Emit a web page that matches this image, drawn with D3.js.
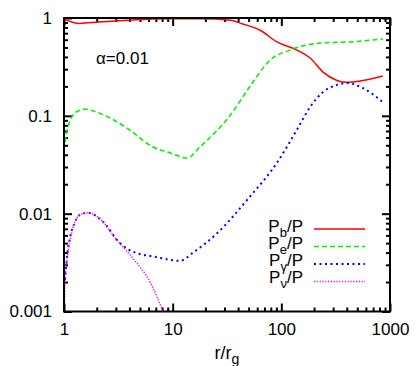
<!DOCTYPE html>
<html>
<head>
<meta charset="utf-8"/>
<script src="https://cdn.jsdelivr.net/npm/d3@7"></script>
<style>
body { margin: 0; background: #fff; }
svg { font-family: "Liberation Sans", Arial, sans-serif; }
</style>
</head>
<body>
<script>
// r/r_g values and pressure ratios
var rB = [1, 1.4, 2.1, 4, 9.4, 18, 34, 44, 64, 91, 139, 184, 242, 325, 402, 530, 860];
var pB = [0.98, 0.88, 0.91, 0.95, 0.98, 0.98, 0.95, 0.87, 0.75, 0.57, 0.47, 0.39, 0.28, 0.23, 0.22, 0.227, 0.255];

var rE = [1.02, 1.09, 1.21, 1.35, 1.56, 2.0, 3.8, 6.6, 9.4, 13.6, 17.8, 34, 51, 79, 120, 227, 430, 860];
var pE = [0.054, 0.077, 0.102, 0.112, 0.117, 0.109, 0.075, 0.048, 0.042, 0.037, 0.048, 0.102, 0.197, 0.372, 0.47, 0.555, 0.57, 0.61];

var rG = [1.02, 1.07, 1.14, 1.26, 1.4, 1.66, 2.3, 3.27, 3.8, 5.3, 6.2, 11.7, 15.4, 25.6, 51, 91, 139, 184, 242, 325, 402, 564, 860];
var pG = [0.0021, 0.0038, 0.0058, 0.0082, 0.0097, 0.0102, 0.0082, 0.0050, 0.0044, 0.0038, 0.0037, 0.0033, 0.0040, 0.0063, 0.0148, 0.033, 0.072, 0.123, 0.175, 0.207, 0.217, 0.192, 0.138];

var rN = [1, 1.02, 1.07, 1.14, 1.26, 1.4, 1.66, 2.3, 2.83, 4.3, 6.2, 8.15];
var pN = [0.001, 0.0019, 0.0034, 0.0054, 0.0082, 0.0097, 0.0102, 0.0082, 0.0060, 0.0035, 0.0020, 0.001];

var xTicks = [1, 10, 100, 1000];
var xTickLabels = ["1", "10", "100", "1000"];
var yTicks = [0.001, 0.01, 0.1, 1];
var yTickLabels = ["0.001", "0.01", "0.1", "1"];

var legendNames = [["P", "b", "/P"], ["P", "e", "/P"], ["P", "\u03b3", "/P"], ["P", "\u03bd", "/P"]];

var W = 417, H = 366;
var pL = 64, pR = 390, pT = 18, pB0 = 311.5;

var svg = d3.select("body").append("svg")
	.attr("width", W)
	.attr("height", H);

var x = d3.scaleLog().domain([1, 1000]).range([pL, pR]);
var y = d3.scaleLog().domain([0.001, 1]).range([pB0, pT]);

function minors(decades) {
	var out = [];
	decades.slice(0, -1).forEach(function(d) {
		for (var k = 2; k <= 9; k++) out.push(d * k);
	});
	return out;
}
var xMinor = minors(xTicks);
var yMinor = minors(yTicks);

function xFmt(d) { return xTickLabels[xTicks.indexOf(d)]; }
function yFmt(d) { return yTickLabels[yTicks.indexOf(d)]; }

// ticks on all four sides, pointing inward
function drawAxis(gen, tx, ty) {
	var g = svg.append("g").attr("transform", "translate(" + tx + "," + ty + ")").call(gen);
	g.select(".domain").remove();
	g.selectAll(".tick line").attr("stroke", "#000").attr("stroke-width", 2);
	g.selectAll("text").attr("font-size", 17).attr("fill", "#000");
	return g;
}

drawAxis(d3.axisBottom(x).tickValues(xTicks).tickSize(-8).tickPadding(11).tickFormat(xFmt), 0, pB0);
drawAxis(d3.axisBottom(x).tickValues(xMinor).tickSize(-4).tickFormat(""), 0, pB0);
drawAxis(d3.axisTop(x).tickValues(xTicks).tickSize(-8).tickFormat(""), 0, pT);
drawAxis(d3.axisTop(x).tickValues(xMinor).tickSize(-4).tickFormat(""), 0, pT);
drawAxis(d3.axisLeft(y).tickValues(yTicks).tickSize(-8).tickPadding(12).tickFormat(yFmt), pL, 0);
drawAxis(d3.axisLeft(y).tickValues(yMinor).tickSize(-4).tickFormat(""), pL, 0);
drawAxis(d3.axisRight(y).tickValues(yTicks).tickSize(-8).tickFormat(""), pR, 0);
drawAxis(d3.axisRight(y).tickValues(yMinor).tickSize(-4).tickFormat(""), pR, 0);

svg.append("defs").append("clipPath").attr("id", "plot")
	.append("rect").attr("x", pL).attr("y", pT)
	.attr("width", pR - pL).attr("height", pB0 - pT);

var line = d3.line()
	.x(function(d) { return x(d[0]); })
	.y(function(d) { return y(d[1]); })
	.curve(d3.curveMonotoneX);

var series = [
	{ r: rB, p: pB, color: "#ff0000", width: 1.5, dash: null },
	{ r: rE, p: pE, color: "#00ee00", width: 1.5, dash: "5,3" },
	{ r: rG, p: pG, color: "#0000ff", width: 2, dash: "2,3.5" },
	{ r: rN, p: pN, color: "#ff00ff", width: 1.5, dash: "1.2,1.6" }
];

series.forEach(function(s) {
	svg.append("path")
		.datum(d3.zip(s.r, s.p))
		.attr("clip-path", "url(#plot)")
		.attr("fill", "none")
		.attr("stroke", s.color)
		.attr("stroke-width", s.width)
		.attr("stroke-dasharray", s.dash)
		.attr("d", line);
});

// frame
svg.append("rect")
	.attr("x", pL).attr("y", pT)
	.attr("width", pR - pL).attr("height", pB0 - pT)
	.attr("fill", "none").attr("stroke", "#000").attr("stroke-width", 2);

// legend
series.forEach(function(s, i) {
	var t = svg.append("text")
		.attr("x", 303).attr("y", 232 + 17 * i)
		.attr("text-anchor", "end")
		.attr("font-size", 17);
	t.append("tspan").text(legendNames[i][0]);
	t.append("tspan").attr("dy", 5).attr("font-size", 13).text(legendNames[i][1]);
	t.append("tspan").attr("dy", -5).text(legendNames[i][2]);
	svg.append("line")
		.attr("x1", 314).attr("x2", 365)
		.attr("y1", 229 + 17.5 * i).attr("y2", 229 + 17.5 * i)
		.attr("stroke", s.color)
		.attr("stroke-width", s.width)
		.attr("stroke-dasharray", s.dash);
});

svg.append("text")
	.attr("x", 96).attr("y", 64)
	.attr("font-size", 17)
	.text("\u03b1=0.01");

var xl = svg.append("text")
	.attr("x", 227).attr("y", 359)
	.attr("text-anchor", "middle")
	.attr("font-size", 18);
xl.append("tspan").text("r/r");
xl.append("tspan").attr("dy", 5).attr("font-size", 14).text("g");
</script>
</body>
</html>
